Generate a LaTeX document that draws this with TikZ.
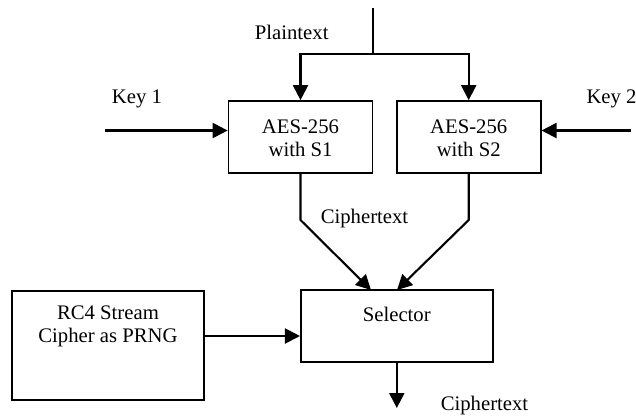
\documentclass[tikz,border=0pt]{standalone}
\usepackage{fontspec}
\setmainfont{Liberation Serif}
\usetikzlibrary{arrows.meta}
\begin{document}
\begin{tikzpicture}[x=1bp,y=-1bp,
  box/.style={draw,line width=1.7bp,minimum width=#1,inner sep=0pt},
  lbl/.style={inner sep=0pt,align=center,font=\fontsize{20.7bp}{23bp}\selectfont},
  conn/.style={line width=2.1bp},
  arr/.style={line width=2.1bp,-{Triangle[length=15bp,width=15bp]}}]
\useasboundingbox (0,0) rectangle (636,417);
% boxes
\node[box=144bp,minimum height=72bp] (aes1) at (300.5,137) {};
\node[box=144bp,minimum height=72bp] (aes2) at (468.7,137) {};
\node[box=192bp,minimum height=72bp] (sel) at (396.8,326) {};
\node[box=192bp,minimum height=109bp] (rc4) at (108,345.5) {};
% box texts
\node[lbl] (aes1t) at (300.5,138.5) {AES-256\\with S1};
\node[lbl] (aes2t) at (468.7,138.5) {AES-256\\with S2};
\node[lbl] (selt) at (396.8,314) {Selector};
\node[lbl] (rc4t) at (108,326.5) {RC4 Stream\\Cipher as PRNG};
% free labels
\node[lbl] (pt) at (291.7,32) {Plaintext};
\node[lbl] (k1) at (137,99) {Key 1};
\node[lbl] (k2) at (611.5,99) {Key 2};
\node[lbl] (ct1) at (364.5,219) {Ciphertext};
\node[lbl] (ct2) at (484.5,406) {Ciphertext};
% coordinates
\coordinate (top) at (372.7,8);
\coordinate (split) at (372.7,54);
\coordinate (k1s) at (105,130.5);
\coordinate (k2s) at (631,130.5);
\coordinate (b1) at (300.5,220);
\coordinate (b2) at (468.7,220);
\coordinate (e1) at (371,290);
\coordinate (e2) at (397,290);
\coordinate (ry) at (0,336);
\coordinate (outend) at (396.8,408);
% connectors
\draw[conn] (top) -- (split);
\draw[arr] (split) -| (aes1.north);
\draw[arr] (split) -| (aes2.north);
\draw[arr] (k1s) -- (aes1.west |- k1s);
\draw[arr] (k2s) -- (aes2.east |- k2s);
\draw[arr] (aes1.south) -- (b1) -- (e1);
\draw[arr] (aes2.south) -- (b2) -- (e2);
\draw[arr] (rc4.east |- ry) -- (sel.west |- ry);
\draw[arr] (sel.south) -- (outend);
\end{tikzpicture}
\end{document}
